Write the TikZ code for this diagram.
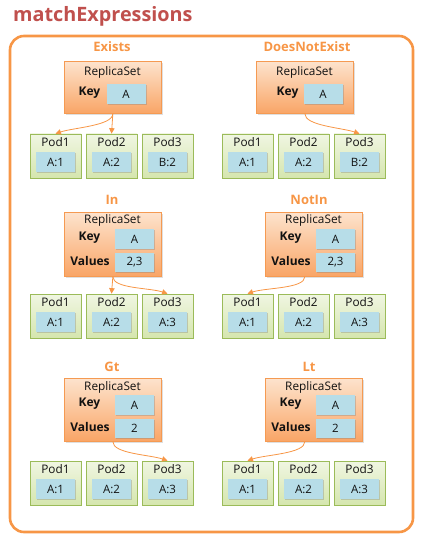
\documentclass[tikz,border=0pt]{standalone}
\usepackage{fontspec}
\setmainfont{Open Sans}
\usetikzlibrary{shadows,arrows.meta}
\definecolor{titleCol}{HTML}{C0504D}
\definecolor{orangeCol}{HTML}{F79646}
\definecolor{rsTop}{HTML}{FDE3CD}
\definecolor{rsBot}{HTML}{F9A566}
\definecolor{rsBorder}{HTML}{F59A52}
\definecolor{podTop}{HTML}{F0F6E2}
\definecolor{podBot}{HTML}{D5E6AE}
\definecolor{podBorder}{HTML}{9BBB59}
\definecolor{blueFill}{HTML}{B7DDE8}
\definecolor{txt}{HTML}{111111}
\newcommand\podrow[6]{%
  \foreach \n/\v [count=\k from 0] in {1/#4,2/#5,3/#6}{%
    \node[pod] (#1\n) at ({#2+\k*56+25.5},{#3+22}) {};
    \node[podlabel] (#1\n-l) at ({#2+\k*56+25.5},{#3+8}) {Pod\n};
    \node[valbox] (#1\n-v) at ({#2+\k*56+25.5},{#3+28}) {\v};
  }}
\begin{document}
\begin{tikzpicture}[x=1pt,y=-1pt,
  every node/.style={text=txt},
  titlestyle/.style={font=\bfseries\fontsize{19.8}{22}\selectfont, text=titleCol, inner sep=0},
  frame/.style={draw=orangeCol, line width=2.6pt, rounded corners=14pt},
  plabel/.style={font=\bfseries\fontsize{13}{15}\selectfont, text=orangeCol, inner sep=0},
  rsbox/.style={draw=rsBorder, line width=0.7pt, top color=rsTop, bottom color=rsBot, minimum width=97pt, inner sep=0, anchor=north west,
    drop shadow={shadow xshift=1.2pt, shadow yshift=-1.2pt, opacity=0.25}},
  rstitle/.style={font=\fontsize{11.8}{13}\selectfont, inner sep=0},
  keylab/.style={font=\bfseries\fontsize{12}{14}\selectfont, inner sep=0},
  pod/.style={draw=podBorder, line width=0.7pt, top color=podTop, bottom color=podBot, minimum width=51pt, minimum height=44pt, inner sep=0,
    drop shadow={shadow xshift=1pt, shadow yshift=-1pt, opacity=0.2}},
  podlabel/.style={font=\fontsize{11.8}{13}\selectfont, inner sep=0},
  valbox/.style={fill=blueFill, minimum width=39pt, minimum height=20pt, inner sep=0, font=\fontsize{11.5}{13}\selectfont,
    drop shadow={shadow xshift=1.2pt, shadow yshift=-1.2pt, opacity=0.35}},
  conn/.style={draw=orangeCol, line width=0.8pt, -{Triangle[length=5.5pt,width=5.5pt]}}
]
\useasboundingbox (0,0) rectangle (425,537);
\node[titlestyle, anchor=west] (title) at (13,16) {matchExpressions};
\draw[frame] (10,36) rectangle (413,532);

% ---------- Exists
\node[plabel] (l1) at (112,47) {Exists};
\node[rsbox, minimum height=52pt] (rs1) at (64,61) {};
\node[rstitle] (rs1t) at (112.5,72) {ReplicaSet};
\node[keylab] (rs1k) at (89.5,93) {Key};
\node[valbox] (rs1kv) at (126,94) {A};
\podrow{pa}{30}{134}{A:1}{A:2}{B:2}
\draw[conn] (rs1.south) .. controls +(0,12) and +(18,-6) .. (pa1.north);
\draw[conn] (rs1.south) -- (pa2.north);

% ---------- DoesNotExist
\node[plabel] (l2) at (307,47) {DoesNotExist};
\node[rsbox, minimum height=52pt] (rs2) at (256,61) {};
\node[rstitle] (rs2t) at (304.5,72) {ReplicaSet};
\node[keylab] (rs2k) at (287.5,93) {Key};
\node[valbox] (rs2kv) at (323,94) {A};
\podrow{pb}{222}{134}{A:1}{A:2}{B:2}
\draw[conn] (rs2.south) .. controls +(0,12) and +(-18,-6) .. (pb3.north);

% ---------- In
\node[plabel] (l3) at (112,200) {In};
\node[rsbox, minimum height=64pt] (rs3) at (64,212) {};
\node[rstitle] (rs3t) at (112.5,220) {ReplicaSet};
\node[keylab] (rs3k) at (89.5,238) {Key};
\node[valbox] (rs3kv) at (134.5,239) {A};
\node[keylab] (rs3v) at (90,261) {Values};
\node[valbox, minimum height=19pt] (rs3vv) at (134.5,262.5) {2,3};
\podrow{pc}{30}{294}{A:1}{A:2}{A:3}
\draw[conn] (rs3.south) -- (pc2.north);
\draw[conn] (rs3.south) .. controls +(0,12) and +(-18,-6) .. (pc3.north);

% ---------- NotIn
\node[plabel] (l4) at (309,200) {NotIn};
\node[rsbox, minimum height=64pt] (rs4) at (265,212) {};
\node[rstitle] (rs4t) at (313.5,220) {ReplicaSet};
\node[keylab] (rs4k) at (290.5,238) {Key};
\node[valbox] (rs4kv) at (335.5,239) {A};
\node[keylab] (rs4v) at (291,261) {Values};
\node[valbox, minimum height=19pt] (rs4vv) at (335.5,262.5) {2,3};
\podrow{pd}{222}{294}{A:1}{A:2}{A:3}
\draw[conn] ([xshift=-9pt]rs4.south) .. controls +(0,12) and +(18,-6) .. (pd1.north);

% ---------- Gt
\node[plabel] (l5) at (112,367) {Gt};
\node[rsbox, minimum height=63pt] (rs5) at (64,378) {};
\node[rstitle] (rs5t) at (112.5,387) {ReplicaSet};
\node[keylab] (rs5k) at (89.5,404) {Key};
\node[valbox] (rs5kv) at (134.5,405) {A};
\node[keylab] (rs5v) at (90,427) {Values};
\node[valbox, minimum height=19pt] (rs5vv) at (134.5,428) {2};
\podrow{pe}{30}{461}{A:1}{A:2}{A:3}
\draw[conn] (rs5.south) .. controls +(0,12) and +(-18,-6) .. (pe3.north);

% ---------- Lt
\node[plabel] (l6) at (309,367) {Lt};
\node[rsbox, minimum height=63pt] (rs6) at (265,378) {};
\node[rstitle] (rs6t) at (313.5,387) {ReplicaSet};
\node[keylab] (rs6k) at (290.5,404) {Key};
\node[valbox] (rs6kv) at (335.5,405) {A};
\node[keylab] (rs6v) at (291,427) {Values};
\node[valbox, minimum height=19pt] (rs6vv) at (335.5,428) {2};
\podrow{pf}{222}{461}{A:1}{A:2}{A:3}
\draw[conn] ([xshift=-9pt]rs6.south) .. controls +(0,12) and +(18,-6) .. (pf1.north);
\end{tikzpicture}
\end{document}
